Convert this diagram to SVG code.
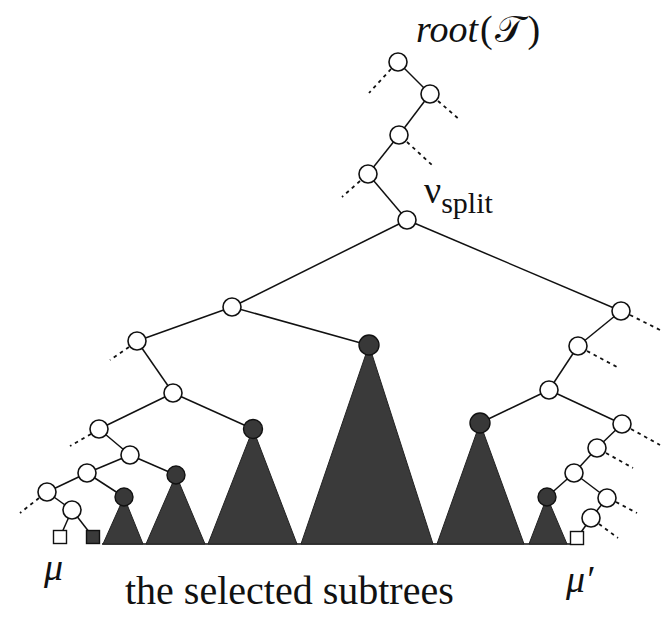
<svg xmlns="http://www.w3.org/2000/svg" width="665" height="617" viewBox="0 0 665 617">
<style>
.e{stroke:#111;stroke-width:1.5;fill:none}
.d{stroke:#111;stroke-width:1.8;fill:none;stroke-dasharray:3.5 4}
.n{fill:#fff;stroke:#111;stroke-width:1.6}
.b{fill:#383838;stroke:#111;stroke-width:1.4}
.t{fill:#3a3a3a;stroke:#222;stroke-width:1}
.sq{fill:#fff;stroke:#111;stroke-width:1.4}
.sqb{fill:#3a3a3a;stroke:#111;stroke-width:1.4}
.lbl{font-family:"Liberation Serif","DejaVu Serif",serif;fill:#111}
.it{font-style:italic}
</style>
<rect width="665" height="617" fill="#fff"/>
<g id="connectors">
<line class="e" x1="398" y1="62" x2="430" y2="94"/>
<line class="e" x1="430" y1="94" x2="399" y2="135"/>
<line class="e" x1="399" y1="135" x2="368" y2="174"/>
<line class="e" x1="368" y1="174" x2="407" y2="220"/>
<line class="e" x1="407" y1="220" x2="232" y2="307"/>
<line class="e" x1="407" y1="220" x2="621" y2="311"/>
<line class="e" x1="232" y1="307" x2="137" y2="341"/>
<line class="e" x1="232" y1="307" x2="368" y2="345"/>
<line class="e" x1="137" y1="341" x2="173" y2="393"/>
<line class="e" x1="173" y1="393" x2="99" y2="429"/>
<line class="e" x1="173" y1="393" x2="253" y2="429"/>
<line class="e" x1="99" y1="429" x2="130" y2="455"/>
<line class="e" x1="130" y1="455" x2="87" y2="473"/>
<line class="e" x1="130" y1="455" x2="176" y2="475"/>
<line class="e" x1="87" y1="473" x2="47" y2="492"/>
<line class="e" x1="87" y1="473" x2="124" y2="497"/>
<line class="e" x1="47" y1="492" x2="72" y2="510"/>
<line class="e" x1="72" y1="510" x2="60" y2="537"/>
<line class="e" x1="72" y1="510" x2="93" y2="537"/>
<line class="e" x1="621" y1="311" x2="578" y2="346"/>
<line class="e" x1="578" y1="346" x2="549" y2="390"/>
<line class="e" x1="549" y1="390" x2="480" y2="423"/>
<line class="e" x1="549" y1="390" x2="622" y2="424"/>
<line class="e" x1="622" y1="424" x2="597" y2="448"/>
<line class="e" x1="597" y1="448" x2="574" y2="473"/>
<line class="e" x1="574" y1="473" x2="547" y2="497"/>
<line class="e" x1="574" y1="473" x2="607" y2="498"/>
<line class="e" x1="607" y1="498" x2="591" y2="518"/>
<line class="e" x1="591" y1="518" x2="577" y2="538"/>
<line class="e" x1="102" y1="544" x2="571" y2="544"/>
<line class="d" x1="391" y1="69" x2="369" y2="93"/>
<line class="d" x1="438" y1="101" x2="460" y2="120"/>
<line class="d" x1="407" y1="142" x2="432" y2="165"/>
<line class="d" x1="360" y1="181" x2="342" y2="197"/>
<line class="d" x1="129" y1="347" x2="110" y2="360"/>
<line class="d" x1="91" y1="434" x2="70" y2="446"/>
<line class="d" x1="39" y1="498" x2="20" y2="513"/>
<line class="d" x1="630" y1="315" x2="660" y2="330"/>
<line class="d" x1="587" y1="351" x2="617" y2="367"/>
<line class="d" x1="631" y1="429" x2="660" y2="445"/>
<line class="d" x1="606" y1="453" x2="633" y2="468"/>
<line class="d" x1="616" y1="502" x2="637" y2="513"/>
<line class="d" x1="599" y1="524" x2="618" y2="538"/>
</g>
<g id="subtrees">
<g id="t1"><polygon class="t" points="124,497 103,544 143,544"/><circle class="b" cx="124" cy="497" r="9"/></g>
<g id="t2"><polygon class="t" points="176,475 146,544 205,544"/><circle class="b" cx="176" cy="475" r="9"/></g>
<g id="t3"><polygon class="t" points="253,429 208,544 297,544"/><circle class="b" cx="253" cy="429" r="9.5"/></g>
<g id="t4"><polygon class="t" points="369,345 301,544 433,544"/><circle class="b" cx="369" cy="345" r="10"/></g>
<g id="t5"><polygon class="t" points="480,423 437,544 524,544"/><circle class="b" cx="480" cy="423" r="10"/></g>
<g id="t6"><polygon class="t" points="547,497 529,544 567,544"/><circle class="b" cx="547" cy="497" r="9"/></g>
</g>
<g id="root"><circle class="n" cx="398" cy="62" r="9"/></g>
<g id="n1"><circle class="n" cx="430" cy="94" r="9"/></g>
<g id="n2"><circle class="n" cx="399" cy="135" r="9"/></g>
<g id="n3"><circle class="n" cx="368" cy="174" r="9"/></g>
<g id="vsplit"><circle class="n" cx="407" cy="220" r="9"/></g>
<g id="l1"><circle class="n" cx="232" cy="307" r="9"/></g>
<g id="la"><circle class="n" cx="137" cy="341" r="9"/></g>
<g id="lb"><circle class="n" cx="173" cy="393" r="9"/></g>
<g id="lc"><circle class="n" cx="99" cy="429" r="9"/></g>
<g id="ld"><circle class="n" cx="130" cy="455" r="9"/></g>
<g id="le"><circle class="n" cx="87" cy="473" r="9"/></g>
<g id="lf"><circle class="n" cx="47" cy="492" r="9"/></g>
<g id="lg"><circle class="n" cx="72" cy="510" r="9"/></g>
<g id="mu"><rect class="sq" x="53.5" y="530.5" width="13" height="13"/></g>
<g id="lsq"><rect class="sqb" x="86.5" y="530.5" width="13" height="13"/></g>
<g id="r1"><circle class="n" cx="621" cy="311" r="9"/></g>
<g id="r2"><circle class="n" cx="578" cy="346" r="9"/></g>
<g id="r3"><circle class="n" cx="549" cy="390" r="9"/></g>
<g id="r4"><circle class="n" cx="622" cy="424" r="9"/></g>
<g id="r5"><circle class="n" cx="597" cy="448" r="9"/></g>
<g id="r6"><circle class="n" cx="574" cy="473" r="9"/></g>
<g id="r7"><circle class="n" cx="607" cy="498" r="9"/></g>
<g id="r8"><circle class="n" cx="591" cy="518" r="9"/></g>
<g id="mup"><rect class="sq" x="570.5" y="531.5" width="13" height="13"/></g>
<g id="labels">
<text class="lbl" x="416" y="42" font-size="38"><tspan font-style="italic">root</tspan><tspan dx="2">(</tspan><tspan dx="2">𝒯</tspan><tspan dx="4">)</tspan></text>
<text class="lbl" x="424" y="203" font-size="38">ν<tspan font-size="30" dy="10">split</tspan></text>
<text class="lbl it" x="44" y="580" font-size="38">μ</text>
<text class="lbl it" x="566" y="592" font-size="38">μ′</text>
<text class="lbl" x="125" y="604" font-size="40">the selected subtrees</text>
</g>
</svg>
